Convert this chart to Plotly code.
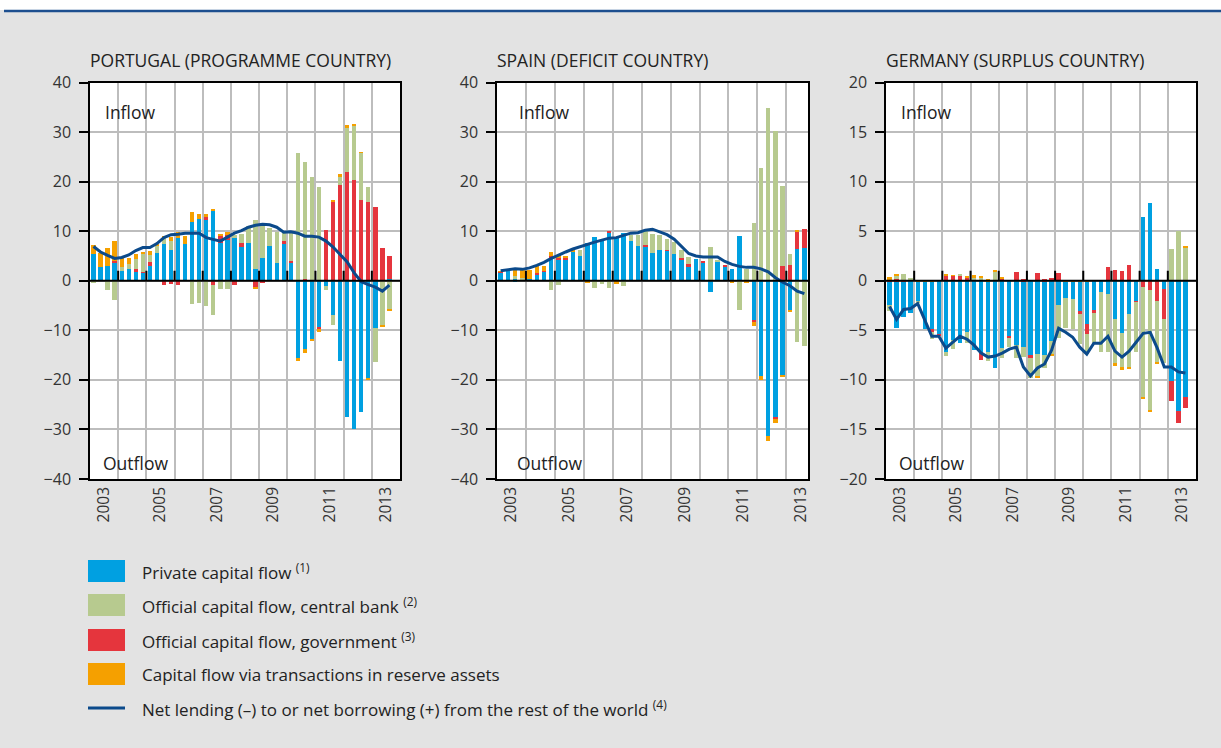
import plotly.graph_objects as go

W, H = 1221, 748

# quarterly categories, 2003Q1 .. 2013Q3
quarters = [f"{y}Q{q}" for y in range(2003, 2014) for q in range(1, 5)][:43]
year_labels = ["2003", "2005", "2007", "2009", "2011", "2013"]

### Portugal ###
pt_private = [5.5, 2.8, 3.0, 3.7, 2.0, 2.4, 1.9, 1.7, 3.0, 5.8, 7.5, 6.3,
              8.7, 7.6, 12.0, 12.6, 12.3, 14.2, 7.8, 8.4, 8.8, 7.0, 7.8, 2.4,
              4.6, 7.2, 3.7, 7.7, 3.7, -15.6, -13.7, -11.6, -9.3, -1.0, -6.8, -16.0,
              -27.4, -29.8, -26.3, -19.7, -9.4, 0.0, 0.5]
pt_central = [-0.3, 0, -1.8, -3.8, 0.8, 1.0, 2.0, 3.5, 1.4, 1.4, 1.4, 1.8,
              0, 0, -4.6, -4.4, -5.0, -6.1, -1.5, -1.5, 0.6, 1.9, 3.3, 10.0,
              7.0, 3.5, 6.3, 1.8, 5.9, 25.9, 23.6, 21.1, 19.1, -0.7, -2.0, 1.5,
              8.8, 11.0, 9.5, 3.1, -6.9, -8.9, -5.7]
pt_government = [0, 0, 0, 0.3, 0, 0, 0.5, 0.2, 0.9, 0, -0.8, -0.5,
                 -0.8, 0, 0, 0, 0.6, -0.7, 1.3, 1.0, -0.8, 0.7, 0, -1.3,
                 -0.3, 0, 0, 0.4, 0.3, 0, 0.5, 0, -0.3, 10.3, 15.9, 19.5,
                 22.1, 20.4, 16.4, 16.0, 14.9, 6.7, 4.6]
pt_reserve = [1.8, 2.9, 3.7, 4.1, 1.8, 1.3, 1.0, 0.6, 0.8, 0.3, 0.3, 0.8,
              1.3, 1.5, 1.9, 1.0, 0.6, 0.4, 0.5, 0.5, 0, 0, 0, -0.3,
              0, 0, 0, 0, 0, -0.4, -0.8, -0.5, -0.7, 0, 0.5, 0.7,
              0.7, 0.4, 0.1, -0.3, 0, -0.3, -0.2]
pt_net = [6.9, 5.8, 5.1, 4.5, 4.7, 5.2, 6.1, 6.7, 6.7, 7.5, 8.7, 9.3,
          9.4, 9.6, 9.6, 9.6, 8.7, 8.4, 8.0, 8.8, 9.6, 10.1, 10.8, 11.2,
          11.4, 11.3, 10.8, 9.8, 9.9, 9.6, 9.0, 9.0, 8.8, 8.0, 6.8, 5.3,
          3.8, 1.6, -0.2, -0.8, -1.3, -2.1, -0.9]

### Spain ###
es_private = [1.8, 2.0, 0.4, 0.0, 0.5, 1.4, 2.0, 4.8, 4.4, 4.3, 5.9, 5.0,
              7.8, 9.0, 8.4, 9.9, 8.7, 9.8, 8.2, 7.1, 7.0, 5.8, 6.4, 6.2,
              5.4, 4.3, 3.0, 4.5, 3.8, -2.1, 3.8, 2.9, 2.4, 9.1, 0, -8.0,
              -19.1, -31.2, -27.5, -19.0, -6.0, 6.6, 6.8]
es_central = [0, 0, 0.6, 0.6, 0, 0, 0, -1.8, -0.8, 0, 0, 1.3,
              0, -1.3, -0.5, -1.3, 0, -1.0, 1.1, 2.2, 2.9, 3.7, 2.9, 2.2,
              2.5, 1.7, 1.5, 0, 0, 6.9, 0.5, 0, 0, -5.9, 2.5, 11.8,
              22.8, 34.9, 30.3, 16.2, 2.3, -12.3, -13.0]
es_government = [0.1, 0, 0, 0, 0, 0.2, 0.1, 0.2, 0.3, 0.4, 0, 0,
                 0, 0, 0, 0.2, 0, 0, 0, 0, 0.3, 0, 0, 0.2,
                 0, 0.3, 0.4, 0, 0.3, 0, 0, 0.2, 0, 0, 0, -0.2,
                 0, 0, -0.3, 3.0, 3.2, 3.5, 3.7]
es_reserve = [0.1, 0, 1.2, 1.6, 1.8, 1.7, 1.0, 1.0, 0.6, 0.3, 0.5, 0,
              -0.3, 0, 0, 0, -0.5, 0, 0, 0, 0, 0, 0, 0,
              0, 0, 0, 0, 0, 0, 0, 0, -0.4, 0, -0.4, -0.9,
              -0.8, -1.1, -0.8, -0.3, -0.3, 0.2, 0]
es_net = [2.0, 2.2, 2.4, 2.3, 2.6, 3.1, 3.7, 4.5, 5.2, 5.8, 6.4, 6.9,
          7.3, 7.8, 8.2, 8.6, 8.7, 9.2, 9.6, 9.7, 10.2, 10.4, 9.9, 9.3,
          8.4, 6.9, 5.5, 5.0, 4.8, 4.8, 4.8, 3.9, 3.3, 2.9, 2.7, 2.7,
          2.4, 1.8, 0.6, -0.3, -1.0, -2.1, -2.6]

### Germany ###
de_private = [-2.4, -4.7, -3.6, -3.2, -2.0, -4.8, -4.9, -5.4, -7.1, -5.9, -6.2, -5.1,
              -6.9, -7.1, -7.1, -8.8, -6.7, -5.6, -6.4, -6.6, -7.5, -7.3, -7.4, -6.0,
              -2.4, -1.7, -1.8, -3.1, -4.3, -2.9, -1.1, -1.3, -3.8, -5.2, -3.3, -2.0,
              6.5, 7.9, 1.2, -0.8, -10.1, -13.1, -11.7]
de_central = [-0.6, 0.4, 0.6, 0.3, -0.2, 0, -0.7, 0, -0.4, -0.9, 0.2, -1.1,
              0.4, 0.35, -0.9, 0.95, -1.0, -0.9, -1.3, -1.0, -2.1, -2.3, -1.4, -1.4,
              -3.3, -3.0, -3.0, -3.0, -2.0, -3.1, -6.0, -5.8, -4.5, -3.5, -5.4, -5.0,
              -11.1, -12.1, -6.2, -4.4, 3.3, 5.1, 3.45]
de_government = [0.2, 0.2, 0.1, 0, 0, 0, -0.2, -0.1, 0.6, 0.55, 0.55, 0.35,
                 0, -0.8, 0, 0, 0.3, -0.1, 0.9, 0.2, -0.2, 0.8, 0.2, 0.3,
                 0.8, 0, 0, -0.2, -1.0, -0.3, 0, 1.4, 1.1, 1.0, 1.6, -0.1,
                 -0.6, -0.9, -2.0, -3.0, -2.0, -1.2, -1.1]
de_reserve = [0.2, 0.15, 0, 0, 0.1, 0.1, 0.1, 0, 0.15, 0.05, 0, 0.1,
              0.2, 0.15, 0.2, 0.15, 0.1, 0, 0, 0, 0, -0.2, 0, -0.1,
              0, 0.1, 0.1, 0.1, 0.1, 0, 0, 0, -0.2, -0.25, -0.2, 0,
              -0.1, -0.15, -0.1, 0, 0, 0, 0.1]
de_net = [-2.6, -3.9, -2.9, -2.8, -2.3, -4.0, -5.6, -5.6, -6.8, -6.2, -5.6, -5.9,
          -6.5, -7.3, -7.7, -7.6, -7.3, -6.9, -6.7, -8.7, -9.6, -8.8, -8.4, -7.0,
          -4.8, -5.2, -5.7, -6.7, -7.4, -6.3, -6.3, -5.6, -7.1, -7.7, -7.1, -6.2,
          -5.3, -5.2, -6.8, -8.7, -8.7, -9.2, -9.3]

BLUE = "#00a0e1"
GREEN = "#b7ca8f"
RED = "#e5353d"
ORANGE = "#f5a000"
NAVY = "#0b4a8b"
GRID = "#bdbdbd"
BG = "#e3e3e3"
FONT = "Open Sans"


def qpos(label):
    yr, q = label.split("Q")
    return int(yr) + (int(q) - 0.5) / 4


xq = [qpos(q) for q in quarters]

# panel setup: title, pixel left/right of plot area, x end, y range, dtick
panels = [
    ("PORTUGAL (PROGRAMME COUNTRY)", 90, 400, 2014, 40, 10,
     pt_private, pt_government, pt_central, pt_reserve, pt_net),
    ("SPAIN (DEFICIT COUNTRY)", 497, 808, 2013.75, 40, 10,
     es_private, es_government, es_central, es_reserve, es_net),
    ("GERMANY (SURPLUS COUNTRY)", 886, 1196, 2014, 20, 5,
     de_private, de_government, de_central, de_reserve, de_net),
]

top_px, bot_px = 82.5, 479
ydom = [1 - bot_px / H, 1 - top_px / H]

fig = go.Figure()
layout = dict(
    width=W, height=H,
    margin=dict(l=0, r=0, t=0, b=0, pad=0, autoexpand=False),
    paper_bgcolor=BG, plot_bgcolor="white",
    barmode="relative", bargap=0,
    showlegend=False,
    font=dict(family=FONT, color="#222"),
)
shapes = []
annotations = []

for i, (title, x0, x1, xend, ymax, dt, priv, gov, cb, res, net) in enumerate(panels):
    sfx = "" if i == 0 else str(i + 1)
    for series, col in [(priv, BLUE), (gov, RED), (cb, GREEN), (res, ORANGE)]:
        fig.add_trace(go.Bar(x=xq, y=series, width=0.155, marker_color=col,
                             marker_line_width=0, xaxis="x" + sfx, yaxis="y" + sfx,
                             hoverinfo="skip"))
    fig.add_trace(go.Scatter(x=xq, y=net, mode="lines", line=dict(color=NAVY, width=3),
                             xaxis="x" + sfx, yaxis="y" + sfx, hoverinfo="skip"))

    layout["xaxis" + sfx] = dict(
        domain=[x0 / W, x1 / W], range=[2003, xend], anchor="y" + sfx, automargin=False,
        tickmode="array", tickvals=[int(t) + 0.5 for t in year_labels], ticktext=year_labels,
        tickangle=-90, tickfont=dict(size=15.5, color="#333"), ticks="",
        showgrid=False, zeroline=False,
        showline=True, linecolor="black", linewidth=1.5, mirror=True,
        minor=dict(tickmode="array", tickvals=list(range(2004, 2014)),
                   showgrid=True, gridcolor=GRID, gridwidth=1.5, ticks=""),
    )
    layout["yaxis" + sfx] = dict(
        domain=ydom, range=[-ymax, ymax], anchor="x" + sfx, automargin=False,
        tickmode="linear", tick0=0, dtick=dt,
        ticks="outside", ticklen=9, tickwidth=1.5, tickcolor="black",
        ticklabelstandoff=5,
        tickfont=dict(size=16, color="#333"),
        showgrid=True, gridcolor=GRID, gridwidth=1.5, zeroline=False,
        showline=True, linecolor="black", linewidth=1.5, mirror=True,
    )

    # zero line and short year ticks over the bars
    shapes.append(dict(type="line", xref="x" + sfx + " domain", yref="y" + sfx,
                       x0=0, x1=1, y0=0, y1=0, line=dict(color="black", width=2)))
    for yb in range(2004, 2014):
        shapes.append(dict(type="line", xref="x" + sfx, yref="y" + sfx + " domain",
                           x0=yb, x1=yb, y0=0.5, y1=0.5 + 10 / (bot_px - top_px),
                           line=dict(color="black", width=2)))

    annotations.append(dict(text=title, xref="paper", yref="paper", x=(x0 - 2) / W,
                            y=1 - 60 / H, xanchor="left", yanchor="middle",
                            showarrow=False, font=dict(size=17.5, color="#222")))
    shift = 7 if i == 1 else 0
    annotations.append(dict(text="Inflow", xref="paper", yref="paper", x=(x0 + 13 + shift) / W,
                            y=1 - 112 / H, xanchor="left", yanchor="middle",
                            showarrow=False, font=dict(size=17.5, color="#222")))
    annotations.append(dict(text="Outflow", xref="paper", yref="paper", x=(x0 + 11 + shift) / W,
                            y=1 - 463 / H, xanchor="left", yanchor="middle",
                            showarrow=False, font=dict(size=17.5, color="#222")))

# white strip and blue rule at the top
shapes.append(dict(type="rect", xref="paper", yref="paper", x0=0, x1=1,
                   y0=1 - 10 / H, y1=1, fillcolor="white", line=dict(width=0)))
shapes.append(dict(type="line", xref="paper", yref="paper", x0=4 / W, x1=1,
                   y0=1 - 11 / H, y1=1 - 11 / H, line=dict(color="#1d4f8f", width=2.5)))

# legend drawn by hand
legend_items = [
    ("Private capital flow <sup>(1)</sup>", BLUE, "box"),
    ("Official capital flow, central bank <sup>(2)</sup>", GREEN, "box"),
    ("Official capital flow, government <sup>(3)</sup>", RED, "box"),
    ("Capital flow via transactions in reserve assets", ORANGE, "box"),
    ("Net lending (\u2013) to or net borrowing (+) from the rest of the world <sup>(4)</sup>", NAVY, "line"),
]
leg_y = [571, 605, 640, 674, 708]
for (label, col, kind), yc in zip(legend_items, leg_y):
    if kind == "box":
        shapes.append(dict(type="rect", xref="paper", yref="paper",
                           x0=88 / W, x1=125 / W, y0=1 - (yc + 11) / H, y1=1 - (yc - 11) / H,
                           fillcolor=col, line=dict(width=0)))
    else:
        shapes.append(dict(type="line", xref="paper", yref="paper",
                           x0=88 / W, x1=125 / W, y0=1 - yc / H, y1=1 - yc / H,
                           line=dict(color=col, width=3)))
    annotations.append(dict(text=label, xref="paper", yref="paper", x=140 / W, y=1 - yc / H,
                            xanchor="left", yanchor="middle", showarrow=False,
                            font=dict(size=17, color="#222")))

layout["shapes"] = shapes
layout["annotations"] = annotations
fig.update_layout(**layout)

fig.write_html("out.html", config={"displayModeBar": False},
               post_script="document.body.style.margin='0';document.body.style.overflow='hidden';")
